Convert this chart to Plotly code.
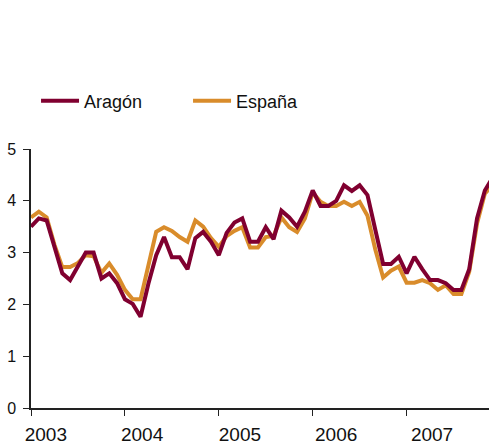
"""
Paro registrado: Aragón frente a España, 2003-2007
"""
import plotly.graph_objs as go

# Monthly series, Jan 2003 onwards (month index 0 = Jan 2003)
aragon = [
    3.50, 3.66, 3.62, 3.08, 2.60, 2.47, 2.73, 3.00, 3.00, 2.50, 2.60, 2.41,
    2.10, 2.01, 1.76, 2.40, 2.95, 3.30, 2.91, 2.91, 2.68, 3.28, 3.40, 3.21,
    2.95, 3.38, 3.58, 3.66, 3.21, 3.21, 3.49, 3.26, 3.81, 3.68, 3.50, 3.79,
    4.20, 3.90, 3.90, 4.00, 4.30, 4.19, 4.30, 4.11, 3.44, 2.78, 2.78, 2.92,
    2.60, 2.92, 2.68, 2.47, 2.47, 2.41, 2.28, 2.28, 2.68, 3.66, 4.20, 4.45,
]
espana = [
    3.68, 3.79, 3.68, 3.15, 2.72, 2.72, 2.80, 2.95, 2.93, 2.61, 2.79, 2.57,
    2.28, 2.10, 2.10, 2.75, 3.40, 3.49, 3.42, 3.30, 3.21, 3.62, 3.50, 3.28,
    3.11, 3.32, 3.42, 3.49, 3.10, 3.10, 3.30, 3.32, 3.68, 3.49, 3.40, 3.66,
    4.16, 3.98, 3.90, 3.90, 3.98, 3.90, 3.98, 3.71, 3.06, 2.52, 2.65, 2.73,
    2.42, 2.42, 2.47, 2.41, 2.28, 2.37, 2.20, 2.20, 2.63, 3.56, 4.14, 4.30,
]
months = list(range(len(aragon)))

year_ticks = [0, 12, 24, 36, 48]
year_label_pos = [1.9, 14.2, 26.7, 39.0, 51.25]
year_labels = ['2003', '2004', '2005', '2006', '2007']

FONT = 'Liberation Sans, Arial, sans-serif'
AXIS_COLOR = '#222222'

fig = go.Figure()

# España drawn first so Aragón sits on top
fig.add_trace(go.Scatter(
    x=months, y=espana, mode='lines', name='España',
    line={'color': '#D98C2B', 'width': 4}, legendrank=2,
))
fig.add_trace(go.Scatter(
    x=months, y=aragon, mode='lines', name='Aragón',
    line={'color': '#800030', 'width': 4}, legendrank=1,
))
# invisible trace to activate label axis
fig.add_trace(go.Scatter(
    x=[0], y=[0], xaxis='x2', mode='lines', showlegend=False,
    hoverinfo='skip', line={'width': 0},
))

fig.update_layout(
    width=489,
    height=446,
    margin={'l': 31, 'r': 0, 't': 149, 'b': 38, 'autoexpand': False},
    plot_bgcolor='white',
    paper_bgcolor='white',
    font={'family': FONT, 'color': '#111111'},
    showlegend=True,
    legend={
        'orientation': 'h',
        'x': 0.011,
        'xanchor': 'left',
        'y': 1.185,
        'yanchor': 'middle',
        'font': {'size': 18, 'family': FONT},
        'itemwidth': 38,
        'entrywidth': 99,
        'traceorder': 'normal',
    },
    xaxis={
        'range': [0, 58.53],
        'tickvals': year_ticks,
        'showticklabels': False,
        'ticks': 'outside',
        'ticklen': 6,
        'tickcolor': AXIS_COLOR,
        'showline': True,
        'linecolor': AXIS_COLOR,
        'linewidth': 1.5,
        'showgrid': False,
        'zeroline': False,
        'automargin': False,
    },
    xaxis2={
        'range': [0, 58.53],
        'overlaying': 'x',
        'anchor': 'y',
        'side': 'bottom',
        'tickvals': year_label_pos,
        'ticktext': year_labels,
        'ticks': '',
        'showline': False,
        'showgrid': False,
        'zeroline': False,
        'tickfont': {'size': 19, 'family': FONT},
        'ticklabelstandoff': 13,
        'automargin': False,
    },
    yaxis={
        'range': [0, 5],
        'tickvals': [0, 1, 2, 3, 4, 5],
        'ticks': 'outside',
        'ticklen': 6,
        'tickcolor': AXIS_COLOR,
        'showline': True,
        'linecolor': AXIS_COLOR,
        'linewidth': 1.5,
        'showgrid': False,
        'zeroline': False,
        'tickfont': {'size': 16, 'family': FONT},
        'ticklabelstandoff': 4,
        'automargin': False,
    },
)

# page body has a default 8px margin; drop it so the figure fills the window
fig.write_html(
    'out.html',
    config={'displayModeBar': False},
    post_script="document.body.style.margin='0';"
                "document.body.style.overflow='hidden';",
)
